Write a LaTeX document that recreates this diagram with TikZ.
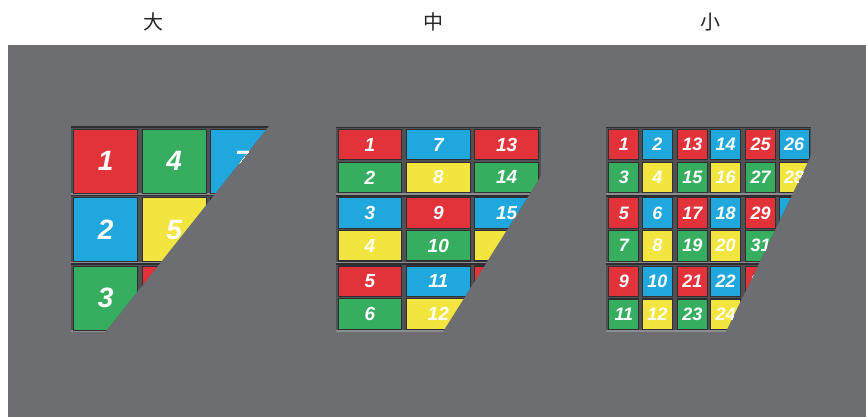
\documentclass[tikz,border=0pt]{standalone}
\usepackage{fontspec}
\setmainfont{Liberation Sans}
\newfontfamily\cjkfont{Noto Sans CJK SC}
\usetikzlibrary{positioning}

\definecolor{panel}{HTML}{6D6E72}
\definecolor{slotfill}{HTML}{505155}
\definecolor{slottop}{HTML}{2E2E31}
\definecolor{slotedge}{HTML}{8D8E92}
\definecolor{celledge}{HTML}{2F2F31}
\definecolor{cred}{HTML}{E2323A}
\definecolor{cgreen}{HTML}{37AE5F}
\definecolor{cblue}{HTML}{1FA7DE}
\definecolor{cyellow}{HTML}{F3E53F}

\tikzset{
  cellbox/.style={draw=celledge, line width=1.1pt, inner sep=0pt, anchor=north west, text=white},
  sizelabel/.style={font=\cjkfont\fontsize{20}{20}\selectfont, text=black!85},
  bignum/.style={font=\fontsize{28}{28}\selectfont\bfseries\itshape},
  midnum/.style={font=\fontsize{19}{19}\selectfont\bfseries\itshape},
  smallnum/.style={font=\fontsize{18}{18}\selectfont\bfseries\itshape}
}

% one slot of the rack, cell area 64 x 64 at (x,y)
\newcommand\slotframe[2]{%
  \fill[slotfill] ({#1-2.2},{#2-2.2}) rectangle ({#1+66.2},{#2+64.5});
  \fill[slottop] ({#1-2.2},{#2-2.2}) rectangle ({#1+66.2},{#2-0.6});
  \fill[slotedge] ({#1-2.2},{#2+64.5}) rectangle ({#1+66.2},{#2+66.2});
}

\begin{document}
\begin{tikzpicture}[x=1pt, y=-1pt]
    \useasboundingbox (0,0) rectangle (866,417);
    \fill[white] (0,0) rectangle (866,417);
    \fill[panel] (8,45) rectangle (866,417);

    % Size labels
    \node[sizelabel] (lblbig) at (153,22) {大};
    \node[sizelabel] (lblmid) at (433,22) {中};
    \node[sizelabel] (lblsmall) at (710,22) {小};

    % Large boxes
    \begin{scope}
        \clip (60,115) -- (277.5,115) -- (99,340) -- (60,340) -- cycle;
        \foreach \c in {0,1,2} \foreach \r in {0,1,2} {\slotframe{73+68.5*\c}{128.5+68.5*\r}}
        \foreach \c/\r/\col/\num in {0/0/cred/1, 0/1/cblue/2, 0/2/cgreen/3,
                                     1/0/cgreen/4, 1/1/cyellow/5, 1/2/cred/,
                                     2/0/cblue/7, 2/1/cred/}
            \node[cellbox, bignum, fill=\col, minimum width=64pt, minimum height=64pt]
                (big-\c-\r) at ({73+68.5*\c},{128.5+68.5*\r}) {\num};
    \end{scope}

    % Medium boxes
    \begin{scope}
        \clip (320,115) -- (541.5,115) -- (541.5,175) -- (437.7,340) -- (320,340) -- cycle;
        \foreach \c in {0,1,2} \foreach \r in {0,1,2} {\slotframe{337.7+68.3*\c}{128.8+68.3*\r}}
        \foreach \c/\s/\col/\num in {0/0/cred/1, 0/1/cgreen/2, 0/2/cblue/3, 0/3/cyellow/4, 0/4/cred/5, 0/5/cgreen/6,
                                     1/0/cblue/7, 1/1/cyellow/8, 1/2/cred/9, 1/3/cgreen/10, 1/4/cblue/11, 1/5/cyellow/12,
                                     2/0/cred/13, 2/1/cgreen/14, 2/2/cblue/15, 2/3/cyellow/, 2/4/cred/}
        {
            \pgfmathtruncatemacro\grp{\s/2}
            \pgfmathtruncatemacro\sub{mod(\s,2)}
            \node[cellbox, midnum, fill=\col, minimum width=63.5pt, minimum height=30.5pt]
                (mid-\c-\s) at ({337.7+68.3*\c},{128.8+68.3*\grp+32.8*\sub}) {\num};
        }
    \end{scope}

    % Small boxes
    \begin{scope}
        \clip (590,115) -- (812,115) -- (812,153.4) -- (721.9,340) -- (590,340) -- cycle;
        \foreach \g in {0,1,2} \foreach \r in {0,1,2} {\slotframe{608.3+68.4*\g}{128.8+68.4*\r}}
        \foreach \g in {0,1} \foreach \s in {0,...,5} \foreach \h/\ca/\cb in {0/cred/cgreen, 1/cblue/cyellow} {
            \pgfmathtruncatemacro\grp{\s/2}
            \pgfmathtruncatemacro\sub{mod(\s,2)}
            \pgfmathtruncatemacro\num{12*\g+2*\s+\h+1}
            \ifodd\s \def\fillc{\cb}\else\def\fillc{\ca}\fi
            \node[cellbox, smallnum, fill=\fillc, minimum width=30pt, minimum height=30.5pt]
                (small-\num) at ({608.3+68.4*\g+33.4*\h},{128.8+68.4*\grp+32.8*\sub}) {\num};
        }
        \foreach \h/\s/\col/\num in {0/0/cred/25, 1/0/cblue/26, 0/1/cgreen/27, 1/1/cyellow/28,
                                     0/2/cred/29, 1/2/cblue/, 0/3/cgreen/31, 0/4/cred/33}
        {
            \pgfmathtruncatemacro\grp{\s/2}
            \pgfmathtruncatemacro\sub{mod(\s,2)}
            \node[cellbox, smallnum, fill=\col, minimum width=30pt, minimum height=30.5pt]
                (small-2-\h-\s) at ({608.3+136.8+33.4*\h},{128.8+68.4*\grp+32.8*\sub}) {\num};
        }
    \end{scope}

\end{tikzpicture}
\end{document}
